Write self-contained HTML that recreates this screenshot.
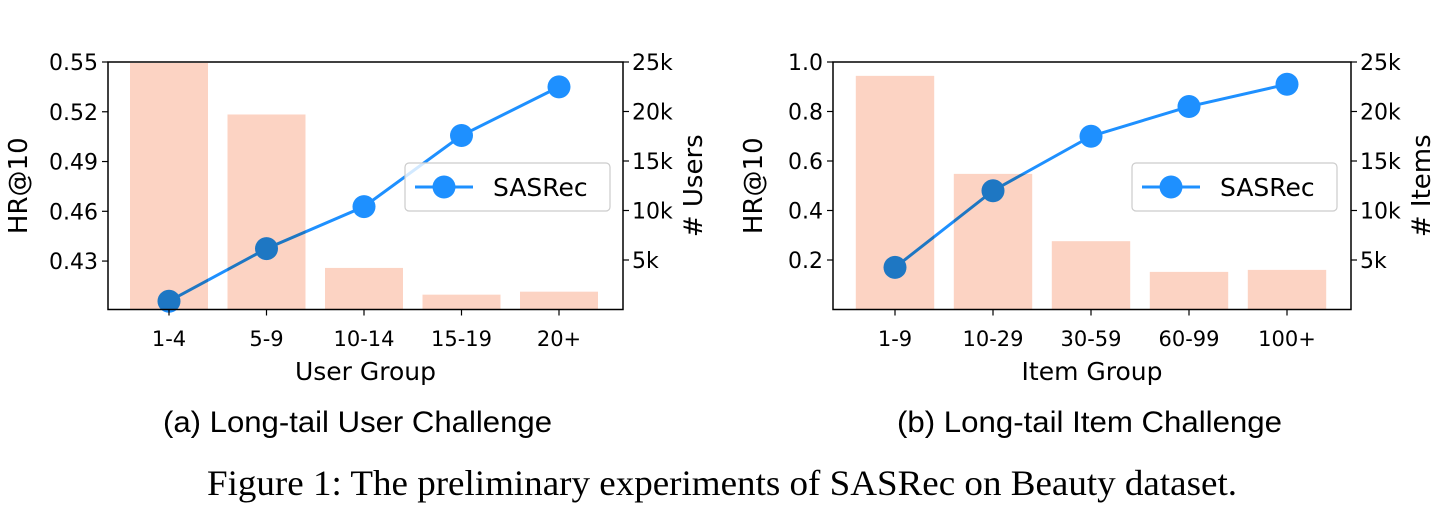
<!DOCTYPE html>
<html><head><meta charset="utf-8"><style>
body{margin:0;background:#fff;width:1449px;height:507px;overflow:hidden}
svg text{font-family:"DejaVu Sans","Liberation Sans",sans-serif;fill:#000}
</style></head><body>
<svg id="fig" width="1449" height="507" viewBox="0 0 1449 507" xmlns="http://www.w3.org/2000/svg">
<text x="163" y="432" font-size="30" textLength="389" lengthAdjust="spacingAndGlyphs" style="font-family:'Liberation Sans',sans-serif">(a) Long-tail User Challenge</text>
<text x="897" y="432" font-size="30" textLength="385" lengthAdjust="spacingAndGlyphs" style="font-family:'Liberation Sans',sans-serif">(b) Long-tail Item Challenge</text>
<text x="207" y="495" font-size="36" textLength="1030" lengthAdjust="spacingAndGlyphs" style="font-family:'Liberation Serif',serif">Figure 1: The preliminary experiments of SASRec on Beauty dataset.</text>
</svg>
<script>
const catsA=["1-4","5-9","10-14","15-19","20+"];
const countsA=[24900,19700,4200,1500,1800];
const hrA=[0.4058,0.4375,0.4628,0.5057,0.535];
const yTicksA=[0.43,0.46,0.49,0.52,0.55];
const yTickLabelsA=["0.43","0.46","0.49","0.52","0.55"];
const catsB=["1-9","10-29","30-59","60-99","100+"];
const countsB=[23600,13700,6900,3800,4000];
const hrB=[0.17,0.48,0.70,0.82,0.91];
const yTicksB=[0.2,0.4,0.6,0.8,1.0];
const yTickLabelsB=["0.2","0.4","0.6","0.8","1.0"];
const rTicks=[5000,10000,15000,20000,25000];
const rTickLabels=["5k","10k","15k","20k","25k"];

const NS="http://www.w3.org/2000/svg";
const svg=document.getElementById('fig');
function mk(tag,attrs,parent){const e=document.createElementNS(NS,tag);for(const k in attrs)e.setAttribute(k,attrs[k]);(parent||svg).appendChild(e);return e;}

function chart(p){
  const g=mk('g',{});
  
  
  const L=p.left,R=p.right,T=62,B=309.5;
  const n=p.cats.length, step=p.step;
  const xs=i=>p.x0+step*i;
  const yL=v=>B-(v-p.ymin)/(p.ymax-p.ymin)*(B-T);
  const yR=v=>B-v/p.rmax*(B-T);
  const pts=p.hr.map((v,i)=>xs(i)+','+yL(v)).join(' ');
  const ln=mk('polyline',{points:pts,fill:'none',stroke:'#1e90ff','stroke-width':3},g);
  
  
  p.hr.forEach((v,i)=>{
    const c=mk('circle',{cx:xs(i),cy:yL(v),r:11.5,fill:'#1e90ff'},g);
    
    
  });
  p.counts.forEach((v,i)=>{
    const top=Math.max(yR(v),T);
    const r=mk('rect',{x:xs(i)-step*0.4,y:top,width:step*0.8,height:B-top,fill:'#fcd3c3',style:'mix-blend-mode:multiply'},g);
    
    
  });
  const fr=mk('rect',{x:L,y:T,width:R-L,height:B-T,fill:'none',stroke:'#000','stroke-width':1.5},g);
  
  
  p.cats.forEach((c,i)=>{
    mk('line',{x1:xs(i),x2:xs(i),y1:B,y2:B+6,stroke:'#000','stroke-width':1.2},g);
    const t=mk('text',{x:xs(i),y:346,'font-size':21,'text-anchor':'middle'},g);
    t.textContent=c;
    
    
  });
  p.yt.forEach((v,i)=>{
    mk('line',{x1:L-6,x2:L,y1:yL(v),y2:yL(v),stroke:'#000','stroke-width':1.2},g);
    const t=mk('text',{x:L-10,y:yL(v)+8,'font-size':22,'text-anchor':'end'},g);
    t.textContent=p.ytl[i];
    
    
  });
  rTicks.forEach((v,i)=>{
    mk('line',{x1:R,x2:R+6,y1:yR(v),y2:yR(v),stroke:'#000','stroke-width':1.2},g);
    const t=mk('text',{x:R+9,y:yR(v)+8,'font-size':22},g);
    t.textContent=rTickLabels[i];
    
    
  });
  const xl=mk('text',{x:(L+R)/2,y:380,'font-size':25,'text-anchor':'middle'},g);
  xl.textContent=p.xlabel;
  
  
  const yl=mk('text',{transform:`translate(${p.ylx},${(T+B)/2}) rotate(-90)`,'font-size':26,'text-anchor':'middle'},g);
  yl.textContent='HR@10';
  
  
  const yr=mk('text',{transform:`translate(${p.yrx},${(T+B)/2}) rotate(-90)`,'font-size':26,'text-anchor':'middle'},g);
  yr.textContent=p.rlabel;
  
  
  const lg=mk('g',{},g);
  
  
  mk('rect',{x:p.lgx,y:163,width:205,height:48,rx:4,fill:'#fff','fill-opacity':0.8,stroke:'#ccc','stroke-width':1.2},lg);
  mk('line',{x1:p.lgx+10,x2:p.lgx+68,y1:187,y2:187,stroke:'#1e90ff','stroke-width':3},lg);
  mk('circle',{cx:p.lgx+39,cy:187,r:11.5,fill:'#1e90ff'},lg);
  const lt=mk('text',{x:p.lgx+88,y:196,'font-size':25},lg);
  lt.textContent='SASRec';
  
  
}
chart({id:'chart-user',left:108,right:623,x0:169,step:97.5,cats:catsA,counts:countsA,hr:hrA,ymin:0.4008,ymax:0.55,yt:yTicksA,ytl:yTickLabelsA,rmax:25000,xlabel:'User Group',rlabel:'# Users',ylx:27,yrx:702,lgx:405});
chart({id:'chart-item',left:833,right:1351,x0:895,step:98,cats:catsB,counts:countsB,hr:hrB,ymin:0.0,ymax:1.0,yt:yTicksB,ytl:yTickLabelsB,rmax:25000,xlabel:'Item Group',rlabel:'# Items',ylx:762,yrx:1430,lgx:1132});
</script>
</body></html>
